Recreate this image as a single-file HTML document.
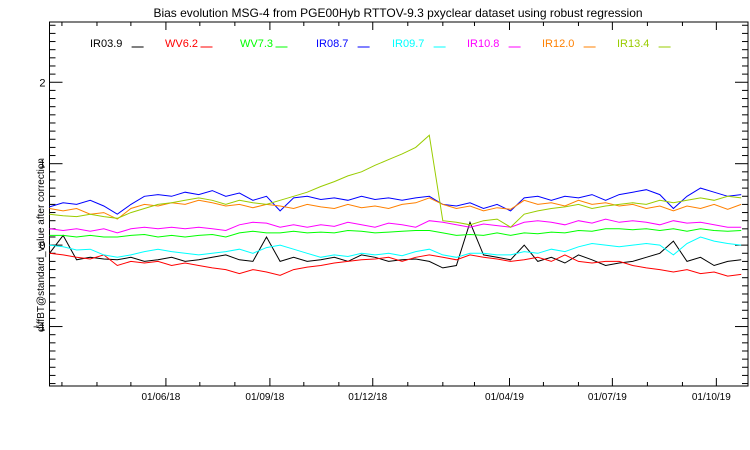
<!DOCTYPE html>
<html><head><meta charset="utf-8"><style>
body{margin:0;background:#fff;}
svg{display:block;font-family:"Liberation Sans",sans-serif;}
</style></head><body>
<svg id="chart" width="750" height="450" viewBox="0 0 750 450">
<text x="398" y="17" font-size="12" text-anchor="middle">Bias evolution MSG-4 from PGE00Hyb RTTOV-9.3 pxyclear dataset using robust regression</text>
<text transform="translate(44,245) rotate(-90)" font-size="10" text-anchor="middle">diffBT@standard_value after correction</text>
<g id="axes"></g>
<g id="series"></g>
<g id="legend"></g>
</svg>
<script>
const channels = ["IR03.9","WV6.2","WV7.3","IR08.7","IR09.7","IR10.8","IR12.0","IR13.4"];
const colors = ["#000000","#ff0000","#00ff00","#0000ff","#00ffff","#ff00ff","#ff8000","#99cc00"];
const startDate = "2018-02-18";
const stepDays = 12;
const ir039 = [-0.1,0.12,-0.18,-0.15,-0.17,-0.18,-0.15,-0.2,-0.18,-0.15,-0.2,-0.18,-0.15,-0.12,-0.18,-0.2,0.1,-0.2,-0.15,-0.2,-0.18,-0.15,-0.2,-0.12,-0.15,-0.2,-0.18,-0.17,-0.2,-0.28,-0.25,0.28,-0.12,-0.15,-0.18,0.0,-0.2,-0.15,-0.22,-0.12,-0.18,-0.25,-0.22,-0.2,-0.15,-0.1,0.05,-0.2,-0.15,-0.25,-0.2,-0.18];
const wv062 = [-0.1,-0.12,-0.15,-0.17,-0.12,-0.25,-0.2,-0.22,-0.2,-0.25,-0.22,-0.25,-0.28,-0.3,-0.35,-0.3,-0.33,-0.37,-0.3,-0.27,-0.25,-0.22,-0.2,-0.18,-0.17,-0.15,-0.2,-0.15,-0.12,-0.15,-0.18,-0.12,-0.15,-0.17,-0.2,-0.18,-0.15,-0.2,-0.12,-0.2,-0.22,-0.2,-0.2,-0.25,-0.28,-0.3,-0.33,-0.3,-0.35,-0.33,-0.38,-0.36];
const wv073 = [0.12,0.12,0.1,0.12,0.1,0.1,0.12,0.13,0.1,0.12,0.1,0.12,0.13,0.1,0.15,0.17,0.15,0.15,0.17,0.15,0.16,0.15,0.18,0.17,0.15,0.16,0.17,0.18,0.18,0.15,0.12,0.13,0.12,0.15,0.12,0.15,0.14,0.16,0.15,0.18,0.17,0.2,0.2,0.19,0.2,0.18,0.2,0.17,0.2,0.18,0.17,0.18];
const ir087 = [0.47,0.52,0.5,0.55,0.48,0.38,0.5,0.6,0.62,0.6,0.65,0.62,0.67,0.6,0.64,0.55,0.6,0.42,0.58,0.6,0.56,0.58,0.55,0.6,0.56,0.58,0.55,0.58,0.6,0.5,0.48,0.52,0.45,0.5,0.42,0.58,0.6,0.55,0.6,0.58,0.62,0.55,0.62,0.65,0.68,0.62,0.45,0.6,0.7,0.65,0.6,0.62];
const ir097 = [0.0,-0.02,-0.06,-0.05,-0.12,-0.15,-0.12,-0.08,-0.05,-0.08,-0.1,-0.12,-0.1,-0.08,-0.05,-0.1,-0.03,0.0,-0.05,-0.1,-0.15,-0.12,-0.14,-0.1,-0.12,-0.1,-0.13,-0.08,-0.05,-0.12,-0.15,-0.1,-0.1,-0.12,-0.12,-0.08,-0.1,-0.05,-0.08,-0.02,0.02,0.0,-0.02,0.0,0.02,0.0,-0.12,0.02,0.1,0.05,0.02,0.0];
const ir108 = [0.2,0.18,0.2,0.17,0.2,0.15,0.2,0.22,0.2,0.22,0.2,0.22,0.2,0.18,0.25,0.28,0.27,0.22,0.25,0.22,0.25,0.23,0.28,0.25,0.22,0.27,0.25,0.22,0.3,0.28,0.25,0.22,0.26,0.24,0.22,0.28,0.3,0.28,0.25,0.3,0.27,0.32,0.28,0.3,0.28,0.25,0.3,0.27,0.28,0.25,0.22,0.22];
const ir120 = [0.45,0.42,0.45,0.38,0.4,0.32,0.45,0.5,0.48,0.52,0.5,0.55,0.52,0.48,0.5,0.46,0.5,0.48,0.45,0.5,0.47,0.45,0.5,0.46,0.48,0.45,0.5,0.52,0.58,0.5,0.45,0.48,0.42,0.46,0.44,0.55,0.5,0.52,0.48,0.55,0.5,0.52,0.48,0.5,0.45,0.48,0.42,0.48,0.45,0.5,0.44,0.5];
const ir134 = [0.38,0.36,0.35,0.38,0.35,0.33,0.4,0.45,0.5,0.52,0.55,0.58,0.55,0.5,0.55,0.52,0.5,0.55,0.6,0.65,0.72,0.78,0.85,0.9,0.98,1.05,1.12,1.2,1.35,0.3,0.28,0.25,0.3,0.32,0.22,0.38,0.42,0.45,0.47,0.5,0.45,0.48,0.5,0.52,0.5,0.55,0.52,0.55,0.58,0.55,0.6,0.58];
const allSeries = [ir039,wv062,wv073,ir087,ir097,ir108,ir120,ir134];
const yTicks = [-1,0,1,2];
const xTickLabels = ["01/06/18","01/09/18","01/12/18","01/04/19","01/07/19","01/10/19"];
const xTickDates = ["2018-06-01","2018-09-01","2018-12-01","2019-04-01","2019-07-01","2019-10-01"];
const monthDates = ["2018-03-01","2018-04-01","2018-05-01","2018-06-01","2018-07-01","2018-08-01","2018-09-01","2018-10-01","2018-11-01","2018-12-01","2019-01-01","2019-02-01","2019-03-01","2019-04-01","2019-05-01","2019-06-01","2019-07-01","2019-08-01","2019-09-01","2019-10-01"];

const L=49.5,R=748,T=22,B=386;
const yMin=-1.73,yMax=2.74;
const d0=Date.parse(startDate), dEnd=Date.parse("2019-10-29");
const NS="http://www.w3.org/2000/svg";
function X(ms){return L+(ms-d0)/(dEnd-d0)*(R-L);}
function Y(v){return B-(v-yMin)/(yMax-yMin)*(B-T);}
function mk(tag,attrs,parent){const e=document.createElementNS(NS,tag);for(const k in attrs)e.setAttribute(k,attrs[k]);parent.appendChild(e);return e;}
const axes=document.getElementById('axes');
let f=mk('rect',{x:L,y:T,width:R-L,height:B-T,fill:'none',stroke:'#000','stroke-width':1},axes);


// y ticks
for(let k=-17;k<=27;k++){const v=k/10;const y=Y(v);const major=(k%10===0);const len=major?13:6;
 let t=mk('line',{x1:L,y1:y,x2:L+len,y2:y,stroke:'#000'},axes);
 
 
 let t2=mk('line',{x1:R,y1:y,x2:R-len,y2:y,stroke:'#000'},axes);
 
 }
yTicks.forEach(v=>{let t=mk('text',{x:L-4,y:Y(v)+4,'font-size':11,'text-anchor':'end'},axes);t.textContent=v===-1?'\u22121':String(v);
 
 });
// x ticks
monthDates.forEach(d=>{const x=X(Date.parse(d));const major=xTickDates.includes(d);const len=major?8:4;
 let a=mk('line',{x1:x,y1:B,x2:x,y2:B-len,stroke:'#000'},axes);
 
 
 let b=mk('line',{x1:x,y1:T,x2:x,y2:T+len,stroke:'#000'},axes);
 
 });
xTickLabels.forEach((lab,i)=>{const x=X(Date.parse(xTickDates[i]));let t=mk('text',{x:x-5,y:B+14,'font-size':10,'text-anchor':'middle'},axes);t.textContent=lab;
 
 });
// series
const sg=document.getElementById('series');
allSeries.forEach((arr,si)=>{const pts=arr.map((v,i)=>X(d0+i*stepDays*86400000).toFixed(1)+','+Y(v).toFixed(1)).join(' ');
 let p=mk('polyline',{points:pts,fill:'none',stroke:colors[si],'stroke-width':1},sg);
 
 });
// legend
const lg=document.getElementById('legend');
const legX=[90,165,240,316,392,467,542,617];
channels.forEach((c,i)=>{const g=mk('g',{},lg);
 
 
 let t=mk('text',{x:legX[i],y:47,'font-size':11,fill:colors[i]},g);t.textContent=c;
 const w=c.length*6.1;
 mk('line',{x1:legX[i]+w+5,y1:47,x2:legX[i]+w+17,y2:47,stroke:colors[i]},g);});
</script>
</body></html>
